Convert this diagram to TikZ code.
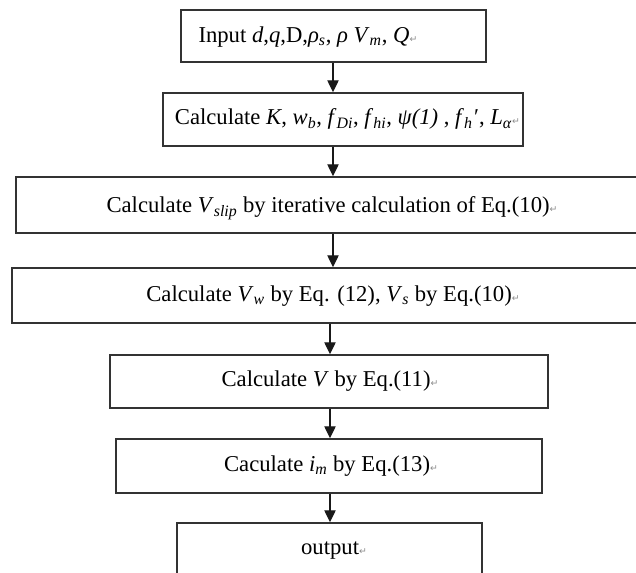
\documentclass[tikz,border=0pt]{standalone}
\usepackage{fontspec}
\setmainfont{Liberation Serif}
\newfontfamily\markfont{DejaVu Sans}
\usetikzlibrary{arrows.meta}

\newcommand{\pmark}{{\markfont\fontsize{7}{7}\selectfont\color{black!45}↵}}
\newcommand{\sub}[1]{\textsubscript{#1}}

\tikzset{every picture/.style={line width=0.75pt}}
\tikzset{
	stepbox/.style={draw=black!80, line width=1.1pt, inner sep=0pt},
	steptext/.style={inner sep=0.75pt, font=\fontsize{17}{20}\selectfont},
	flow/.style={draw=black!90, line width=1pt, -{Triangle[width=8.5pt,length=9pt]}}
}

\begin{document}
\begin{tikzpicture}[x=0.75pt,y=0.75pt,yscale=-1,xscale=1]
	\useasboundingbox (0,0) rectangle (636,573);
	
	% boxes
	\node [stepbox, minimum width=305*0.75pt, minimum height=52*0.75pt] (input) at (333.5,36) {};
	\node [stepbox, minimum width=360*0.75pt, minimum height=53*0.75pt] (params) at (343,119.5) {};
	\node [stepbox, minimum width=632*0.75pt, minimum height=56*0.75pt] (slip) at (332,205) {};
	\node [stepbox, minimum width=642*0.75pt, minimum height=55*0.75pt] (vws) at (333,295.5) {};
	\node [stepbox, minimum width=438*0.75pt, minimum height=53*0.75pt] (vel) at (329,381.5) {};
	\node [stepbox, minimum width=426*0.75pt, minimum height=54*0.75pt] (grad) at (329,466) {};
	\node [stepbox, minimum width=305*0.75pt, minimum height=60*0.75pt] (out) at (329.5,553) {};
	
	% Text Node
	\node [steptext, anchor=west] (inputtxt) at (197,37) {Input \textit{d},\textit{q},D,\textit{ρ}\sub{\textit{s}}, \textit{ρ} \textit{V}\sub{\textit{m}}, \textit{Q}\pmark};
	% Text Node
	\node [steptext] (paramstxt) at (347.5,119) {Calculate \textit{K}, \textit{w}\sub{\textit{b}}, \textit{f}\sub{\textit{Di}}, \textit{f}\sub{\textit{hi}}, \textit{ψ(1)} , \textit{f}\sub{\textit{h}}\kern1pt′, \textit{L}\sub{\textit{α}}\pmark};
	% Text Node
	\node [steptext] (sliptxt) at (332,208) {Calculate \textit{V}\sub{\textit{slip}} by iterative calculation of Eq.(10)\pmark};
	% Text Node
	\node [steptext] (vwstxt) at (333,296) {Calculate \textit{V}\sub{\textit{w}} by Eq. (12), \textit{V}\sub{\textit{s}} by Eq.(10)\pmark};
	% Text Node
	\node [steptext] (veltxt) at (330,381) {Calculate \textit{V} by Eq.(11)\pmark};
	% Text Node
	\node [steptext] (gradtxt) at (331,466) {Caculate \textit{i}\sub{\textit{m}} by Eq.(13)\pmark};
	% Text Node
	\node [steptext] (outtxt) at (334,551) {output\pmark};
	
	% arrows
	\coordinate (upper) at (333,0);
	\coordinate (lower) at (330,0);
	\draw [flow] (input.south -| upper) -- (params.north -| upper);
	\draw [flow] (params.south -| upper) -- (slip.north -| upper);
	\draw [flow] (slip.south -| upper) -- (vws.north -| upper);
	\draw [flow] (vws.south -| lower) -- (vel.north -| lower);
	\draw [flow] (vel.south -| lower) -- (grad.north -| lower);
	\draw [flow] (grad.south -| lower) -- (out.north -| lower);
	
\end{tikzpicture}
\end{document}
